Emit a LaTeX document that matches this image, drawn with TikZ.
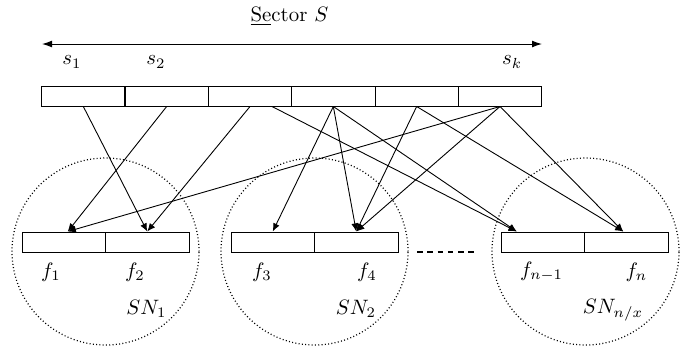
\documentclass[tikz,border=0pt]{standalone}
\usetikzlibrary{arrows.meta}
\begin{document}
\begin{tikzpicture}[x=0.48pt,y=-0.48pt,
  cellbox/.style={draw, rectangle, minimum width=40pt, minimum height=9.6pt, inner sep=0pt, line width=0.48pt},
  fcell/.style={draw, rectangle, minimum width=40.08pt, minimum height=9.6pt, inner sep=0pt, line width=0.48pt},
  link/.style={-{Latex[length=3.9pt,width=3.3pt]}, line width=0.43pt},
  subnet/.style={draw, circle, minimum size=89.76pt, inner sep=0pt, line width=0.58pt, dash pattern=on 0.48pt off 1.1pt},
  lbl/.style={inner sep=0pt}]
\useasboundingbox (0,0) rectangle (694,352);

% sub-network circles
\node[subnet] (sn1) at (105.5,251.5) {};
\node[subnet] (sn2) at (314.5,251.5) {};
\node[subnet] (sn3) at (585.5,251.5) {};

% title and range arrow
\node[lbl, anchor=base] (sec) at (289.5,21.5) {\underline{Se}ctor $S$};
\coordinate (al) at (42,44);
\coordinate (ar) at (542,44);
\draw[{Latex[length=4.8pt,width=3.3pt]}-{Latex[length=4.8pt,width=3.3pt]}, line width=0.48pt] (al) -- (ar);

\node[lbl] (s1) at (72,62) {$s_1$};
\node[lbl] (s2) at (156,62) {$s_2$};
\node[lbl] (sk) at (512,62) {$s_k$};

% sector cells
\node[cellbox] (t1) at (83.33,96) {};
\node[cellbox] (t2) at (166.67,96) {};
\node[cellbox] (t3) at (250,96) {};
\node[cellbox] (t4) at (333.33,96) {};
\node[cellbox] (t5) at (416.67,96) {};
\node[cellbox] (t6) at (500,96) {};

% fragment cells
\node[fcell] (b1) at (63.75,242) {};
\node[fcell] (b2) at (147.25,242) {};
\node[fcell] (b3) at (272.75,242) {};
\node[fcell] (b4) at (356.25,242) {};
\node[fcell] (b5) at (542.75,242) {};
\node[fcell] (b6) at (626.25,242) {};

% labels
\node[lbl] (f1) at (51,272) {$f_1$};
\node[lbl] (f2) at (135,272) {$f_2$};
\node[lbl] (f3) at (262,272) {$f_3$};
\node[lbl] (f4) at (367,272) {$f_4$};
\node[lbl] (f5) at (541.5,272) {$f_{n-1}$};
\node[lbl] (f6) at (636.5,272) {$f_n$};
\node[lbl] (l1) at (146.5,309) {$SN_1$};
\node[lbl] (l2) at (356,309) {$SN_2$};
\node[lbl] (l3) at (613,310) {$SN_{n/x}$};

% ellipsis
\coordinate (d1) at (417,252);
\coordinate (d2) at (475,252);
\draw[line width=0.96pt, dash pattern=on 2.64pt off 2.3pt] (d1) -- (d2);

% mappings
\draw[link] (t1.south) -- (b2.north);
\draw[link] (t2.south) -- ([xshift=1.92pt]b1.north);
\draw[link] (t3.south) -- (b2.north);
\draw[link] ([xshift=10.56pt]t3.south) -- ([xshift=-12.48pt]b5.north);
\draw[link] (t4.south) -- (b3.north);
\draw[link] (t4.south) -- (b4.north);
\draw[link] (t4.south) -- ([xshift=-12.48pt]b5.north);
\draw[link] (t5.south) -- (b4.north);
\draw[link] (t5.south) -- ([xshift=-1.44pt]b6.north);
\draw[link] (t6.south) -- ([xshift=1.92pt]b1.north);
\draw[link] (t6.south) -- (b4.north);
\draw[link] (t6.south) -- ([xshift=-1.44pt]b6.north);
\end{tikzpicture}
\end{document}
